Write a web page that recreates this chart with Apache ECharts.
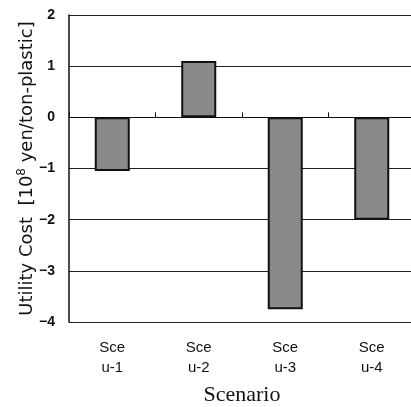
<!DOCTYPE html>
<html><head><meta charset="utf-8">
<script src="https://cdn.jsdelivr.net/npm/echarts@6/dist/echarts.min.js"></script>
<style>html,body{margin:0;padding:0;background:#fff}#c{width:411px;height:407px}</style>
</head><body><div id="c"></div>
<script>
var categories = ['Sce\nu-1', 'Sce\nu-2', 'Sce\nu-3', 'Sce\nu-4'];
var costValues = [-1.05, 1.1, -3.75, -2.0];
var yTicks = [-4, -3, -2, -1, 0, 1, 2];

var chart = echarts.init(document.getElementById('c'), null, {renderer: 'canvas'});
chart.setOption({
  animation: false,
  backgroundColor: '#fff',
  grid: {left: 69, top: 15, width: 346, height: 307, containLabel: false, outerBoundsMode: 'none'},
  xAxis: [{
    type: 'category', data: categories, position: 'bottom',
    axisLine: {show: true, onZero: true, lineStyle: {color: '#111', width: 1}},
    axisTick: {show: true, inside: true, length: 5, lineStyle: {color: '#111'}},
    axisLabel: {show: false}
  }, {
    type: 'category', data: categories, position: 'bottom',
    axisLine: {show: false, onZero: false}, axisTick: {show: false},
    axisLabel: {fontFamily: 'Liberation Sans', fontSize: 15, color: '#111', lineHeight: 20, margin: 16},
    name: 'Scenario', nameLocation: 'middle', nameGap: 62,
    nameTextStyle: {fontFamily: 'Liberation Serif', fontSize: 22, color: '#111'}
  }],
  yAxis: {
    type: 'value', min: -4, max: 2, interval: 1,
    axisLine: {show: true, lineStyle: {color: '#111', width: 1.5}},
    axisTick: {show: false},
    splitLine: {show: true, lineStyle: {color: '#222', width: 1}},
    axisLabel: {fontFamily: 'Liberation Sans', fontSize: 14, fontWeight: 'bold', color: '#111', margin: 14,
      formatter: function (v) { return String(v).replace('-', '\u2212'); }},
    name: 'Utility Cost  [10{sup|8} yen/ton-plastic]',
    nameLocation: 'middle', nameGap: 31, nameRotate: 90, nameMoveOverlap: false,
    nameTextStyle: {fontFamily: 'DejaVu Sans', fontSize: 18, color: '#111',
      rich: {sup: {fontFamily: 'DejaVu Sans', fontSize: 12, color: '#111', verticalAlign: 'top', padding: [0, 0, 10, 0]}}}
  },
  series: [{
    type: 'bar', data: costValues, xAxisIndex: 0, barWidth: 35,
    itemStyle: {color: '#8a8a8a', borderColor: '#111', borderWidth: 2}
  }]
});
</script></body></html>
